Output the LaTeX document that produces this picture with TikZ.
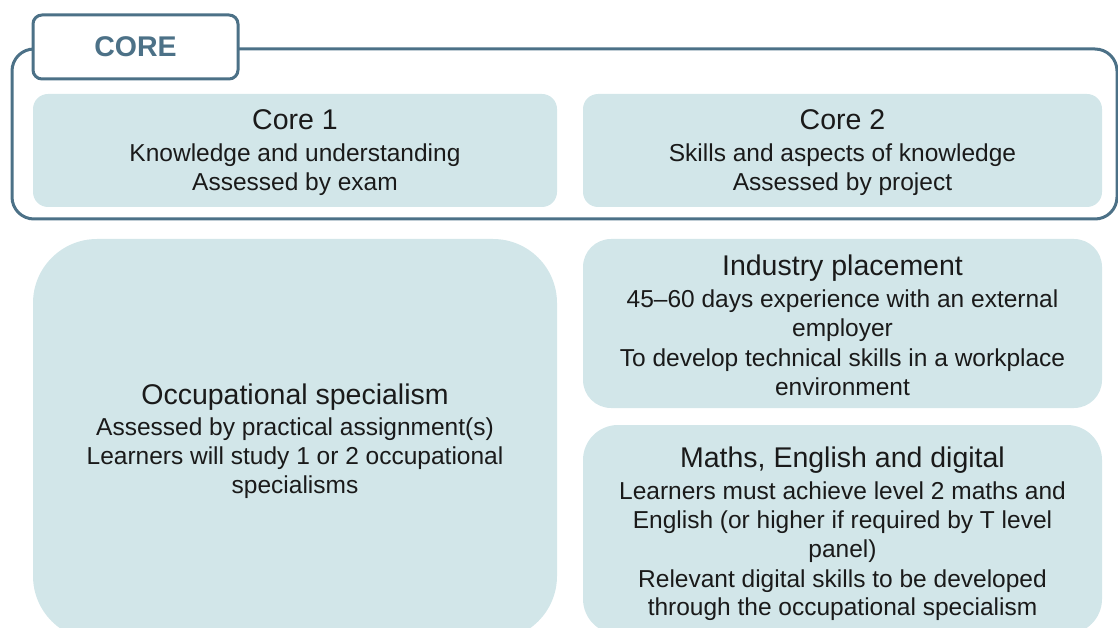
\documentclass[tikz,border=0pt]{standalone}
\usepackage{fontspec}
\setmainfont{Liberation Sans}
\definecolor{framecol}{HTML}{4C7187}
\definecolor{boxfill}{HTML}{D2E6E9}
\definecolor{textcol}{HTML}{1A1A1A}
\tikzset{
  panel/.style={fill=boxfill, draw=none, inner sep=0pt, outer sep=0pt},
  frameline/.style={draw=framecol, line width=3pt},
  ttl/.style={anchor=base, inner sep=0pt, text=textcol, font=\fontsize{28.5}{34}\selectfont},
  bdy/.style={anchor=base, inner sep=0pt, text=textcol, font=\fontsize{24.5}{29.3}\selectfont},
}
\begin{document}
\begin{tikzpicture}[x=1pt,y=-1pt]
\useasboundingbox (0,0) rectangle (1118,628);
\clip (0,0) rectangle (1118,628);
% outer CORE frame
\draw[frameline, rounded corners=22pt] (12,49) rectangle (1117,219);
% tab
\node[frameline, fill=white, rounded corners=9pt, minimum width=205pt, minimum height=64pt, inner sep=0pt,
      text=framecol, font=\bfseries\fontsize{28.5}{34}\selectfont] (coretab) at (135.5,47) {CORE};
% panels
\node[panel, rounded corners=15pt, minimum width=524pt, minimum height=113pt] (core1) at (295,150.5) {};
\node[panel, rounded corners=15pt, minimum width=519pt, minimum height=113pt] (core2) at (842.5,150.5) {};
\node[panel, rounded corners=64pt, minimum width=524pt, minimum height=401pt] (occ) at (295,439.5) {};
\node[panel, rounded corners=28pt, minimum width=519pt, minimum height=169pt] (ind) at (842.5,323.5) {};
\node[panel, rounded corners=35pt, minimum width=519pt, minimum height=209pt] (maths) at (842.5,529.5) {};
% Core 1 text
\node[ttl] (c1t) at (295,130) {Core 1};
\node[bdy] (c1a) at (295,162) {Knowledge and understanding};
\node[bdy] (c1b) at (295,191) {Assessed by exam};
% Core 2 text
\node[ttl] (c2t) at (842.5,130) {Core 2};
\node[bdy] (c2a) at (842.5,162) {Skills and aspects of knowledge};
\node[bdy] (c2b) at (842.5,191) {Assessed by project};
% Industry placement
\node[ttl] (it) at (842.5,276) {Industry placement};
\node[bdy] (ia) at (842.5,307) {45–60 days experience with an external};
\node[bdy] (ib) at (842.5,336) {employer};
\node[bdy] (ic) at (842.5,366) {To develop technical skills in a workplace};
\node[bdy] (id) at (842.5,395) {environment};
% Occupational specialism
\node[ttl] (ot) at (295,404) {Occupational specialism};
\node[bdy] (oa) at (295,435) {Assessed by practical assignment(s)};
\node[bdy] (ob) at (295,464) {Learners will study 1 or 2 occupational};
\node[bdy] (oc) at (295,493) {specialisms};
% Maths, English and digital
\node[ttl] (mt) at (842.5,467) {Maths, English and digital};
\node[bdy] (ma) at (842.5,499) {Learners must achieve level 2 maths and};
\node[bdy] (mb) at (842.5,528) {English (or higher if required by T level};
\node[bdy] (mc) at (842.5,557) {panel)};
\node[bdy] (md) at (842.5,587) {Relevant digital skills to be developed};
\node[bdy] (me) at (842.5,615) {through the occupational specialism};
\end{tikzpicture}
\end{document}
